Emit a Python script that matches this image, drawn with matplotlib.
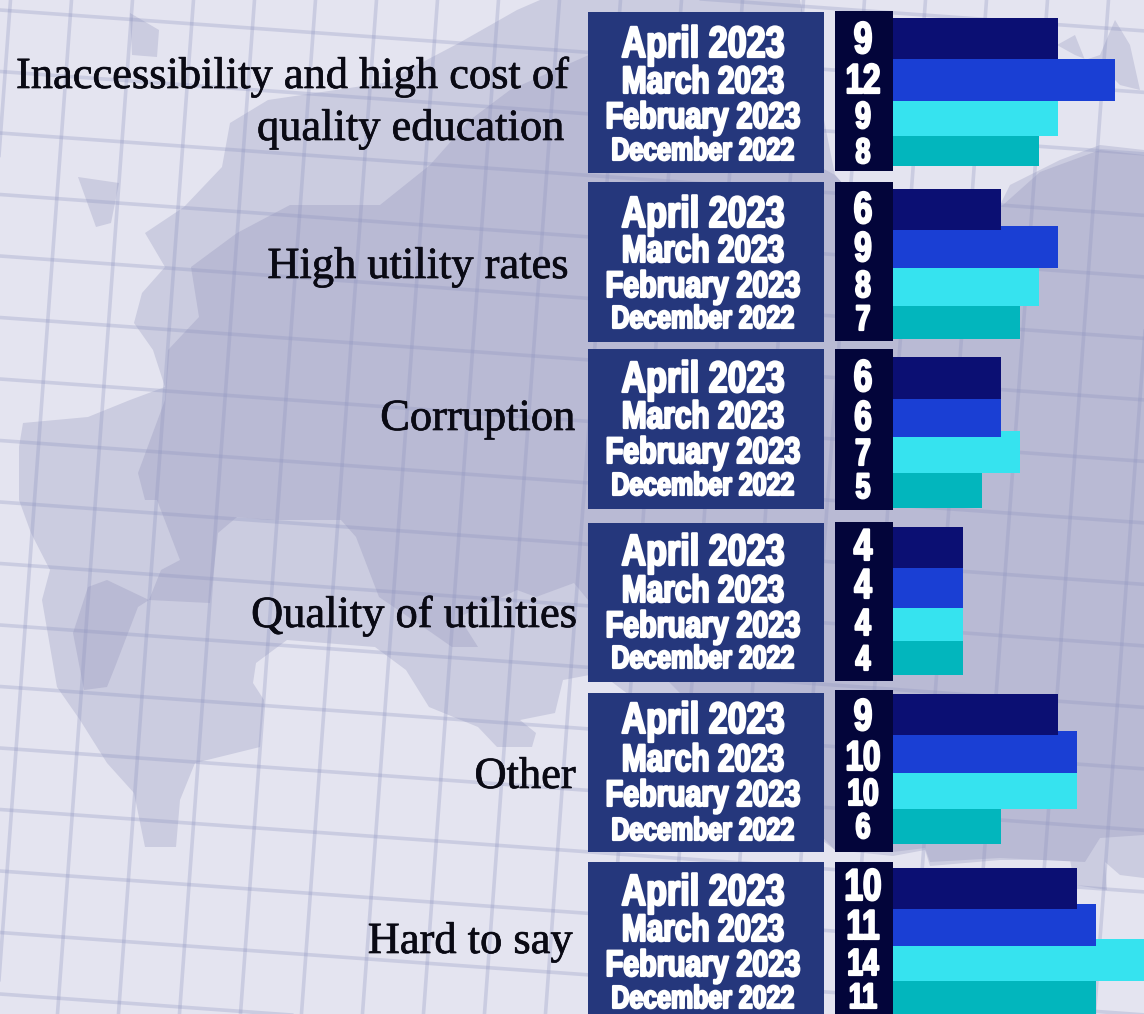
import matplotlib
matplotlib.use('Agg')
import matplotlib.pyplot as plt
import matplotlib.patheffects as pe
from matplotlib.patches import Polygon, Rectangle
from matplotlib.transforms import Affine2D

# Data
labels = ['Inaccessibility and high cost of\nquality education', 'High utility rates', 'Corruption',
          'Quality of utilities', 'Other', 'Hard to say']
periods = ['April 2023', 'March 2023', 'February 2023', 'December 2022']
apr_2023 = [9, 6, 6, 4, 9, 10]
mar_2023 = [12, 9, 6, 4, 10, 11]
feb_2023 = [9, 8, 7, 4, 10, 14]
dec_2022 = [8, 7, 5, 4, 6, 11]
series = [apr_2023, mar_2023, feb_2023, dec_2022]

# Layout, in pixels of the 1144x1014 picture
W, H = 1144, 1014
ORIGIN = 887
PX_PER_UNIT = 19.0
bar_edges = [
    [(18, 59), (59, 101), (101, 136), (136, 166)],
    [(189, 230), (226, 268), (268, 306), (306, 339)],
    [(357, 399), (399, 437), (431, 473), (473, 508)],
    [(527, 568), (568, 608), (608, 641), (641, 675)],
    [(694, 735), (731, 773), (773, 809), (809, 844)],
    [(868, 909), (904, 946), (939, 981), (981, 1030)],
]
name_boxes = [(12, 173), (182, 342), (349, 509), (523, 682), (693, 852), (862, 1030)]
num_boxes = [(11, 171), (182, 341), (349, 510), (522, 681), (690, 852), (862, 1030)]
date_base = [(57, 93, 128, 160), (227, 262, 297, 328), (392, 428, 463, 495),
             (565, 602, 637, 668), (733, 771, 806, 840), (905, 941, 976, 1008)]
num_base = [(53, 93, 128, 163), (223, 261, 297, 330), (391, 430, 465, 498),
            (560, 598, 635, 670), (730, 770, 805, 838), (900, 939, 975, 1008)]
date_size = [31.5, 27.5, 26.5, 23]
num_size = [32, 30, 27, 25.5]
colors = ['#0b0f73', '#1a3fd4', '#36e3ef', '#02b6bd']
label_pos = [(570, 88), (569, 278), (576, 430), (578, 627), (576, 788), (573, 953)]


class Squeeze(pe.AbstractPathEffect):
    # narrows the glyphs around a pixel column, there is no condensed heavy font here
    def __init__(self, cx, sx, stroke=1.6):
        super().__init__()
        self.cx = cx
        self.sx = sx
        self.stroke = stroke

    def draw_path(self, renderer, gc, tpath, affine, rgbFace):
        aff = affine + Affine2D().translate(-self.cx, 0).scale(self.sx, 1).translate(self.cx, 0)
        gc0 = renderer.new_gc()
        gc0.copy_properties(gc)
        gc0.set_linewidth(self.stroke)
        gc0.set_foreground(rgbFace)
        renderer.draw_path(gc0, tpath, aff, rgbFace)
        gc0.restore()


fig = plt.figure(figsize=(W / 100, H / 100), dpi=100)

# Background map and grid
bg = fig.add_axes([0, 0, 1, 1], zorder=0)
bg.set_xlim(0, W)
bg.set_ylim(H, 0)
bg.axis('off')
bg.add_patch(Rectangle((0, 0), W, H, color='#e4e4f0', lw=0))

land = [(800, 0), (540, 0), (517, 10), (459, 43), (383, 83), (268, 100), (230, 123), (222, 167), (184, 207),
        (145, 233), (165, 267), (142, 293), (134, 323), (153, 350), (165, 387), (130, 400), (88, 417),
        (23, 423), (19, 447), (19, 500), (31, 533), (50, 570), (42, 600), (57, 687), (80, 720), (107, 763),
        (134, 793), (145, 847), (176, 847), (180, 800), (195, 763), (260, 747), (264, 700), (253, 683),
        (256, 663), (287, 640), (375, 647), (406, 670), (429, 707), (478, 727), (497, 747), (532, 747),
        (536, 733), (520, 720), (555, 713), (563, 680), (600, 673), (835, 850), (893, 856), (925, 850),
        (930, 866), (1000, 860), (1070, 860), (1075, 885), (1107, 890), (1105, 862), (1120, 875),
        (1144, 878), (1144, 150), (1100, 145), (1060, 160), (1040, 170), (1010, 185), (1000, 205),
        (893, 240), (835, 175)]
inner = [(237, 233), (290, 205), (380, 205), (430, 165), (470, 120), (510, 90), (600, 50), (835, 175),
         (893, 240), (1003, 205), (1040, 172), (1100, 150), (1144, 155), (1144, 835), (1100, 838),
         (1085, 862), (1000, 858), (930, 862), (925, 848), (893, 852), (835, 850), (588, 600), (574, 583),
         (536, 597), (517, 590), (459, 617), (478, 647), (452, 647), (432, 633), (379, 597), (356, 537),
         (341, 520), (268, 520), (237, 517), (218, 533), (210, 603), (149, 600), (161, 570), (180, 560),
         (157, 500), (145, 500), (138, 473), (165, 400), (168, 350), (199, 317), (191, 267)]
islands = [[(78, 177), (119, 183), (111, 223), (96, 227)],
           [(130, 13), (159, 30), (157, 57), (132, 55)],
           [(1057, 45), (1075, 35), (1085, 60), (1100, 55), (1115, 20), (1130, 45), (1140, 90), (1120, 85),
            (1100, 65), (1075, 55)]]
lake = [(88, 587), (107, 580), (149, 600), (138, 607), (115, 667), (107, 687), (84, 690), (73, 633)]

bg.add_patch(Polygon(land, color='#cbcce0', lw=0))
bg.add_patch(Polygon(inner, color='#b9bad4', lw=0))
bg.add_patch(Polygon(lake, color='#b9bad4', lw=0))
for isl in islands:
    bg.add_patch(Polygon(isl, color='#cbcce0', lw=0))

for k in range(0, 21):
    bg.plot([10.5 + 61 * k, 10.5 + 61 * k - 0.074 * H], [0, H], color='#8f95c0', alpha=0.3, lw=2.6)
for k in range(-2, 18):
    bg.plot([0, W], [10 + 61.5 * k, 10 + 61.5 * k + 0.072 * W], color='#8f95c0', alpha=0.3, lw=2.6)

# Bars, lowest series first so the upper bars sit on top
ax = fig.add_axes([0, 0, 1, 1], zorder=1)
ax.patch.set_alpha(0)
ax.set_xlim(-ORIGIN / PX_PER_UNIT, (W - ORIGIN) / PX_PER_UNIT)
ax.set_ylim(H, 0)
ax.axis('off')
for s in [3, 2, 1, 0]:
    for g, vals in enumerate(zip(*series)):
        top, bot = bar_edges[g][s]
        ax.barh((top + bot) / 2, vals[s], height=bot - top, color=colors[s], lw=0)

# Boxes and text on top
top_ax = fig.add_axes([0, 0, 1, 1], zorder=2)
top_ax.patch.set_alpha(0)
top_ax.set_xlim(0, W)
top_ax.set_ylim(H, 0)
top_ax.axis('off')

for g in range(len(labels)):
    t, b = name_boxes[g]
    top_ax.add_patch(Rectangle((588, t), 236, b - t, color='#25377c', lw=0))
    t, b = num_boxes[g]
    top_ax.add_patch(Rectangle((835, t), 58, b - t, color='#03053a', lw=0))
    for s in range(4):
        top_ax.text(703, date_base[g][s], periods[s], color='white', ha='center', va='baseline',
                    fontsize=date_size[s], fontweight='bold', family='Liberation Sans',
                    path_effects=[Squeeze(703, 0.78)])
        top_ax.text(863, num_base[g][s], str(series[s][g]), color='white', ha='center', va='baseline',
                    fontsize=num_size[s], fontweight='bold', family='Liberation Sans',
                    path_effects=[Squeeze(863, 0.75)])

serif = ['Liberation Serif', 'DejaVu Serif']
ink = [pe.withStroke(linewidth=0.5, foreground='#0a0a14')]
for g, lab in enumerate(labels):
    x, y = label_pos[g]
    if '\n' in lab:
        first, second = lab.split('\n')
        top_ax.text(x, y, first, ha='right', va='baseline', fontsize=32, family=serif, color='#0a0a14', path_effects=ink)
        top_ax.text(x - 5, y + 52, second, ha='right', va='baseline', fontsize=32, family=serif, color='#0a0a14', path_effects=ink)
    else:
        top_ax.text(x, y, lab, ha='right', va='baseline', fontsize=32, family=serif, color='#0a0a14', path_effects=ink)

fig.savefig('out.png', dpi=100)
